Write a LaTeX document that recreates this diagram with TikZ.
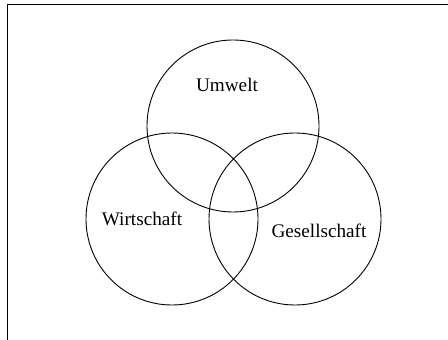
\documentclass[tikz,border=0pt]{standalone}
\usepackage{fontspec}
\setmainfont{Liberation Serif}
\usetikzlibrary{positioning}

\begin{document}
\begin{tikzpicture}[x=0.5pt,y=-0.5pt,font=\fontsize{9.6}{11}\selectfont,
	venn/.style={draw,circle,minimum size=86pt,inner sep=0pt,line width=0.45pt},
	lbl/.style={inner sep=0pt}]

\useasboundingbox (0,0) rectangle (448,340);

% frame
\coordinate (frame_bl) at (7.5,340);
\coordinate (frame_tl) at (7.5,4.5);
\coordinate (frame_tr) at (448,4.5);
\draw[line width=0.7pt] (frame_bl) -- (frame_tl) -- (frame_tr);

\node[venn] (umwelt) at (233,126) {};
\node[venn] (wirtschaft) at (172,219) {};
\node[venn] (gesellschaft) at (295,219) {};

\node[lbl] (umwelt_lbl) at (227,85) {Umwelt};
\node[lbl] (wirtschaft_lbl) at (142,219) {Wirtschaft};
\node[lbl] (gesellschaft_lbl) at (319,231) {Gesellschaft};

\end{tikzpicture}
\end{document}
